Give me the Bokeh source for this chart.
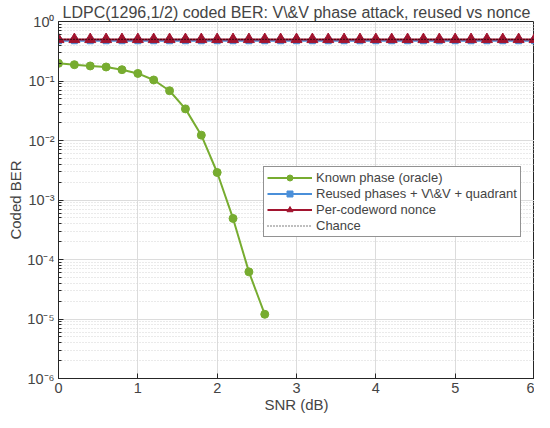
import numpy as np
from bokeh.plotting import figure
from bokeh.models import (FixedTicker, Range1d, CustomJSTickFormatter,
                          Legend, LegendItem, ColumnDataSource)
from bokeh.embed import file_html
from bokeh.resources import INLINE

# ---- data ----
snr_known = [0.0, 0.2, 0.4, 0.6, 0.8, 1.0, 1.2, 1.4, 1.6, 1.8, 2.0, 2.2, 2.4, 2.6]
ber_known = [0.198, 0.188, 0.179, 0.172, 0.155, 0.134, 0.104, 0.0686, 0.034,
             0.0123, 0.0029, 0.00049, 6.2e-5, 1.2e-5]
snr_all = [round(0.2 * i, 1) for i in range(31)]
ber_reused = [0.475] * 31
ber_nonce = [0.5] * 31
chance_x = [0.0, 6.0]
chance_y = [0.5, 0.5]
x_ticks = [0, 1, 2, 3, 4, 5, 6]
y_exps = [-6, -5, -4, -3, -2, -1, 0]

title = "LDPC(1296,1/2) coded BER: V\\&V phase attack, reused vs nonce"
labels = ["Known phase (oracle)", "Reused phases + V\\&V + quadrant",
          "Per-codeword nonce", "Chance"]

FONT = "Liberation Sans"
GREEN = "#77ac30"
BLUE = "#4a8fd9"
RED = "#a2142f"

p = figure(frame_width=476, frame_height=357, y_axis_type="log",
           x_range=Range1d(0, 6), y_range=Range1d(1e-6, 1),
           output_backend="svg", toolbar_location=None,
           min_border_left=58, min_border_right=0, min_border_top=0,
           min_border_bottom=0)

p.title.text = title
p.title.text_font = FONT
p.title.text_font_size = "16px"
p.title.text_font_style = "normal"
p.title.align = "center"
p.title.standoff = 2
p.title.offset = 0

major_y = [10.0 ** e for e in y_exps]
minor_y = [k * 10.0 ** e for e in y_exps[:-1] for k in range(2, 10)]
fmt = CustomJSTickFormatter(code="""
const e = Math.round(Math.log10(tick));
const sup = {'-':'\u207b','0':'\u2070','1':'\u00b9','2':'\u00b2','3':'\u00b3','4':'\u2074','5':'\u2075','6':'\u2076','7':'\u2077','8':'\u2078','9':'\u2079'};
return '10' + String(e).split('').map(c => sup[c]).join('');
""")

for ax in p.yaxis:
    ax.ticker = FixedTicker(ticks=major_y, minor_ticks=minor_y)
    ax.formatter = fmt
    ax.axis_label = "Coded BER"
for ax in p.xaxis:
    ax.ticker = FixedTicker(ticks=x_ticks)
    ax.axis_label = "SNR (dB)"

for ax in list(p.xaxis) + list(p.yaxis):
    ax.axis_label_text_font = FONT
    ax.axis_label_text_font_size = "15px"
    ax.axis_label_text_font_style = "normal"
    ax.major_label_text_font = FONT
    ax.major_label_text_font_size = "14.5px"
    ax.axis_line_color = "#262626"
    ax.major_tick_in = 5
    ax.major_tick_out = 0
    ax.minor_tick_in = 3
    ax.minor_tick_out = 0
    ax.major_tick_line_color = "#262626"
    ax.minor_tick_line_color = "#262626"
    ax.major_label_standoff = 4
    ax.axis_label_standoff = 0

p.outline_line_color = "#262626"

p.xgrid.grid_line_color = "#dcdcdc"
p.xgrid.grid_line_width = 1
p.ygrid.grid_line_color = "#dcdcdc"
p.ygrid.minor_grid_line_color = "#d4d4d4"
p.ygrid.minor_grid_line_dash = "1 2"

src_k = ColumnDataSource(dict(x=snr_known, y=ber_known))
src_r = ColumnDataSource(dict(x=snr_all, y=ber_reused))
src_n = ColumnDataSource(dict(x=snr_all, y=ber_nonce))
src_c = ColumnDataSource(dict(x=chance_x, y=chance_y))

gl = p.line("x", "y", source=src_k, color=GREEN, line_width=2)
gs = p.scatter("x", "y", source=src_k, marker="circle", size=8, color=GREEN)
bl = p.line("x", "y", source=src_r, color=BLUE, line_width=2)
bs = p.scatter("x", "y", source=src_r, marker="square", size=6, color=BLUE)
rl = p.line("x", "y", source=src_n, color=RED, line_width=2)
rs = p.scatter("x", "y", source=src_n, marker="triangle", size=11, color=RED)
cl = p.line("x", "y", source=src_c, color="black", line_width=1.2, line_dash="1 2")

legend = Legend(items=[
    LegendItem(label=labels[0], renderers=[gl, gs]),
    LegendItem(label=labels[1], renderers=[bl, bs]),
    LegendItem(label=labels[2], renderers=[rl, rs]),
    LegendItem(label=labels[3], renderers=[cl]),
], location=(205, 141))
legend.label_text_font = FONT
legend.label_text_font_size = "13px"
legend.glyph_width = 45
legend.glyph_height = 15
legend.label_height = 15
legend.spacing = 1
legend.padding = 3
legend.margin = 0
legend.label_standoff = 4
legend.border_line_color = "#262626"
legend.border_line_width = 1
legend.background_fill_alpha = 1
p.add_layout(legend, "center")

open("out.html", "w").write(file_html(p, INLINE))
